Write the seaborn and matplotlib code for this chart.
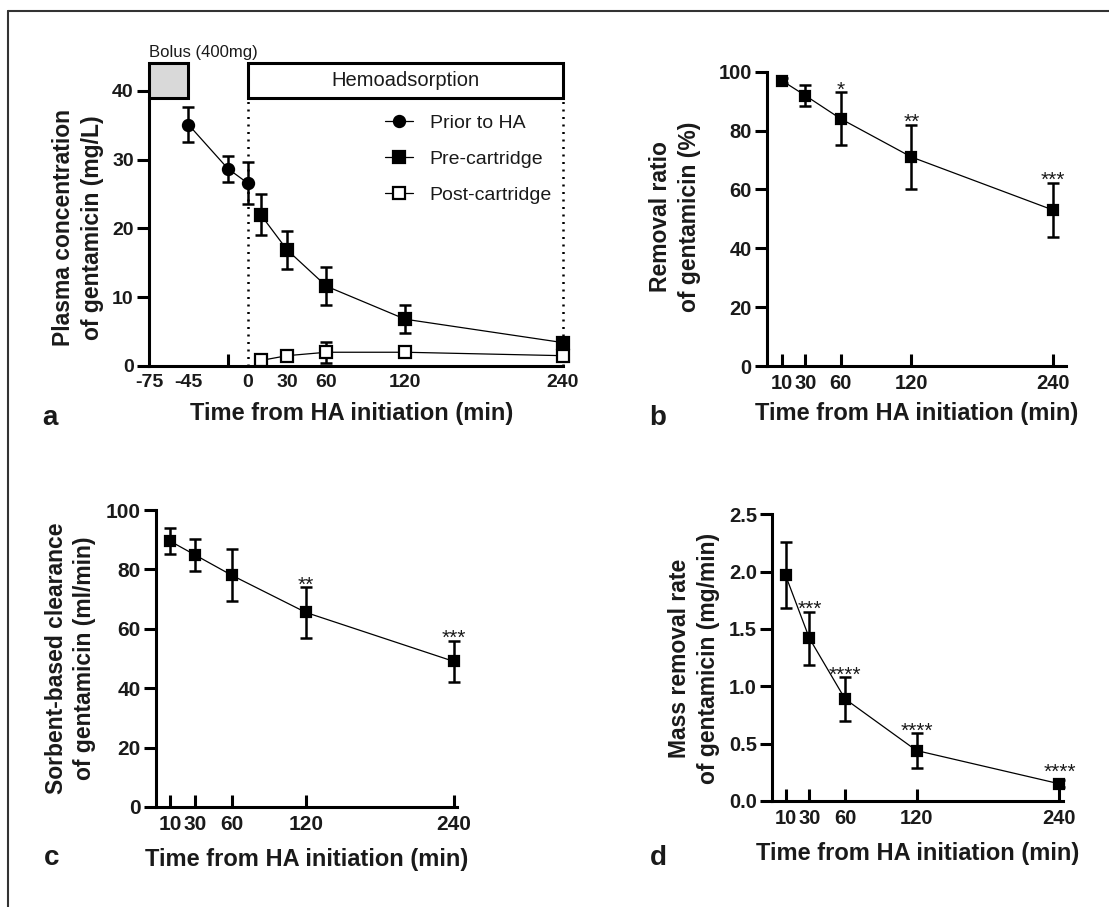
import matplotlib
matplotlib.use("Agg")
import matplotlib.pyplot as plt
import seaborn as sns
from matplotlib.patches import Rectangle
from matplotlib.lines import Line2D

# ---- data (mean, SD) ----
times_prior = [-45, -15, 0]
conc_prior = [35.1, 28.7, 26.6]
sd_prior = [2.5, 1.9, 3.1]

times_ha = [10, 30, 60, 120, 240]
conc_pre = [22.0, 16.9, 11.6, 6.8, 3.4]
sd_pre = [3.0, 2.8, 2.8, 2.0, 0.5]
conc_post = [0.8, 1.5, 2.0, 2.0, 1.5]
sd_post = [0.3, 0.4, 1.5, 0.5, 0.4]

removal_ratio = [97.0, 91.9, 84.0, 71.0, 53.0]
removal_sd = [0.8, 3.6, 9.0, 11.0, 9.3]
removal_sig = ["", "", "*", "**", "***"]

clearance = [89.5, 84.9, 78.0, 65.5, 49.0]
clearance_sd = [4.3, 5.3, 8.8, 8.5, 7.0]
clearance_sig = ["", "", "", "**", "***"]

mass_rate = [1.97, 1.42, 0.89, 0.44, 0.15]
mass_sd = [0.29, 0.23, 0.19, 0.15, 0.03]
mass_sig = ["", "***", "****", "****", "****"]

a_tick_labels = [-75, -45, 0, 30, 60, 120, 240]
a_tick_marks = [-45, -15, 10, 30, 60, 120, 240]

XLABEL = "Time from HA initiation (min)"
INK = "#1a1a1a"

sns.set_theme(style="ticks")
plt.rcParams["font.family"] = ["Liberation Sans", "DejaVu Sans"]
plt.rcParams["axes.linewidth"] = 2.2
plt.rcParams["axes.edgecolor"] = "black"
plt.rcParams["axes.unicode_minus"] = False

W, H = 1109, 907
fig = plt.figure(figsize=(W / 100, H / 100), dpi=100)


def px_axes(left, right, bottom, top):
    return fig.add_axes([left / W, 1 - bottom / H, (right - left) / W, (bottom - top) / H])


def base_style(ax, tick_size):
    sns.despine(ax=ax)
    ax.tick_params(axis="y", direction="out", length=8.5, width=2.2, pad=2.5,
                   labelsize=tick_size, color="black", labelcolor=INK)
    ax.tick_params(axis="x", which="both", direction="in", length=8.5, width=2.2,
                   pad=6, labelsize=tick_size, color="black", labelcolor=INK)
    for lab in ax.get_xticklabels() + ax.get_yticklabels():
        lab.set_fontweight("bold")


def series(ax, x, y, err, marker="s", ms=7, face="black", label=None):
    ax.errorbar(x, y, yerr=err, fmt="none", ecolor="black", elinewidth=1.8,
                capsize=4, capthick=1.8, clip_on=False, zorder=2)
    sns.lineplot(x=x, y=y, ax=ax, color="black", lw=0.9, marker=marker,
                 markersize=ms, markerfacecolor=face, markeredgecolor="black",
                 markeredgewidth=1.6, clip_on=False, zorder=3, label=label,
                 legend=False)


def stars(ax, x, y, err, sig):
    for xi, yi, ei, s in zip(x, y, err, sig):
        if s:
            ax.annotate(s, (xi, yi + ei), xytext=(0, -2.5), textcoords="offset points",
                        ha="center", va="baseline", fontsize=15, color=INK)


def labels(ax, xpos, ypos, letter, letter_xy):
    ax.set_xlabel(XLABEL, fontsize=17, fontweight="bold", color=INK, va="center")
    ax.xaxis.set_label_coords(xpos, ypos)
    fig.text(letter_xy[0] / W, 1 - letter_xy[1] / H, letter, fontsize=20,
             fontweight="bold", ha="center", va="center", color=INK)


def ylabel(text, xc, yc):
    fig.text(xc / W, 1 - yc / H, text, rotation=90, ha="center", va="center",
             multialignment="center", fontsize=16.5, fontweight="bold",
             linespacing=1.3, color=INK)


# ---- panel a ----
ax = px_axes(149, 563, 366, 62.7)
ax.set_xlim(-75, 240)
ax.set_ylim(0, 44.1)
ax.add_patch(Rectangle((-75, 38.9), 30, 5.2, facecolor="#d9d9d9", edgecolor="black",
                       lw=2.2, clip_on=False, zorder=4))
ax.add_patch(Rectangle((0, 38.9), 240, 5.2, facecolor="white", edgecolor="black",
                       lw=2.2, clip_on=False, zorder=4))
ax.text(120, 41.5, "Hemoadsorption", ha="center", va="center", fontsize=14.5,
        color=INK, zorder=5)
ax.text(-75, 45.6, "Bolus (400mg)", ha="left", va="center", fontsize=12,
        color=INK, clip_on=False)
ax.vlines([0, 240], 0, 38.9, colors="black", lw=1.8, linestyles=(0, (0.8, 2.2)),
          zorder=1, clip_on=False)
series(ax, times_prior, conc_prior, sd_prior, marker="o", ms=8, label="Prior to HA")
series(ax, times_ha, conc_pre, sd_pre, marker="s", ms=8, label="Pre-cartridge")
series(ax, times_ha, conc_post, sd_post, marker="s", ms=8, face="white", label="Post-cartridge")
ax.set_yticks([0, 10, 20, 30, 40])
ax.set_xticks(a_tick_labels)
ax.set_xticks(a_tick_marks, minor=True)
base_style(ax, 14)
ax.tick_params(axis="x", which="major", length=0)
ax.spines["left"].set_bounds(0, 38.9)
leg = ax.legend(loc="upper left", bbox_to_anchor=(0.57, 0.83), frameon=False,
                fontsize=14, borderpad=0, borderaxespad=0, handlelength=1.45,
                handletextpad=0.85, labelspacing=0.95)
for t in leg.get_texts():
    t.set_color(INK)
labels(ax, 0.49, -0.158, "a", (50, 418))
ylabel("Plasma concentration\nof gentamicin (mg/L)", 78, 228)

# ---- panel b ----
ax = px_axes(767, 1066, 366, 71.7)
ax.set_xlim(-2.5, 251)
ax.set_ylim(0, 100)
series(ax, times_ha, removal_ratio, removal_sd, ms=7.5)
stars(ax, times_ha, removal_ratio, removal_sd, removal_sig)
ax.set_yticks([0, 20, 40, 60, 80, 100])
ax.set_xticks(times_ha)
base_style(ax, 14.5)
labels(ax, 0.5, -0.1625, "b", (658, 418))
ylabel("Removal ratio\nof gentamicin (%)", 675, 217)

# ---- panel c ----
ax = px_axes(156, 456.5, 807, 510)
ax.set_xlim(-1.5, 242)
ax.set_ylim(0, 100)
series(ax, times_ha, clearance, clearance_sd, ms=6.5)
stars(ax, times_ha, clearance, clearance_sd, clearance_sig)
ax.set_yticks([0, 20, 40, 60, 80, 100])
ax.set_xticks(times_ha)
base_style(ax, 15)
labels(ax, 0.5, -0.178, "c", (52, 858))
ylabel("Sorbent-based clearance\nof gentamicin (ml/min)", 70.5, 658)

# ---- panel d ----
ax = px_axes(772.4, 1063, 801, 514.3)
ax.set_xlim(-1, 243)
ax.set_ylim(0, 2.5)
series(ax, times_ha, mass_rate, mass_sd, ms=6.8)
stars(ax, times_ha, [m + 0.05 if i == 4 else m for i, m in enumerate(mass_rate)],
      mass_sd, mass_sig)
ax.set_yticks([0.0, 0.5, 1.0, 1.5, 2.0, 2.5])
ax.set_yticklabels(["0.0", "0.5", "1.0", "1.5", "2.0", "2.5"])
ax.set_xticks(times_ha)
base_style(ax, 14.5)
labels(ax, 0.5, -0.1824, "d", (658, 858))
ylabel("Mass removal rate\nof gentamicin (mg/min)", 694, 658)

# outer frame (top and left edges only)
fig.add_artist(Line2D([8 / W, 1], [1 - 11 / H] * 2, transform=fig.transFigure,
                      color="#333333", lw=1.5))
fig.add_artist(Line2D([8 / W] * 2, [0, 1 - 11 / H], transform=fig.transFigure,
                      color="#333333", lw=1.5))

fig.savefig("out.png", dpi=100, facecolor="white")
